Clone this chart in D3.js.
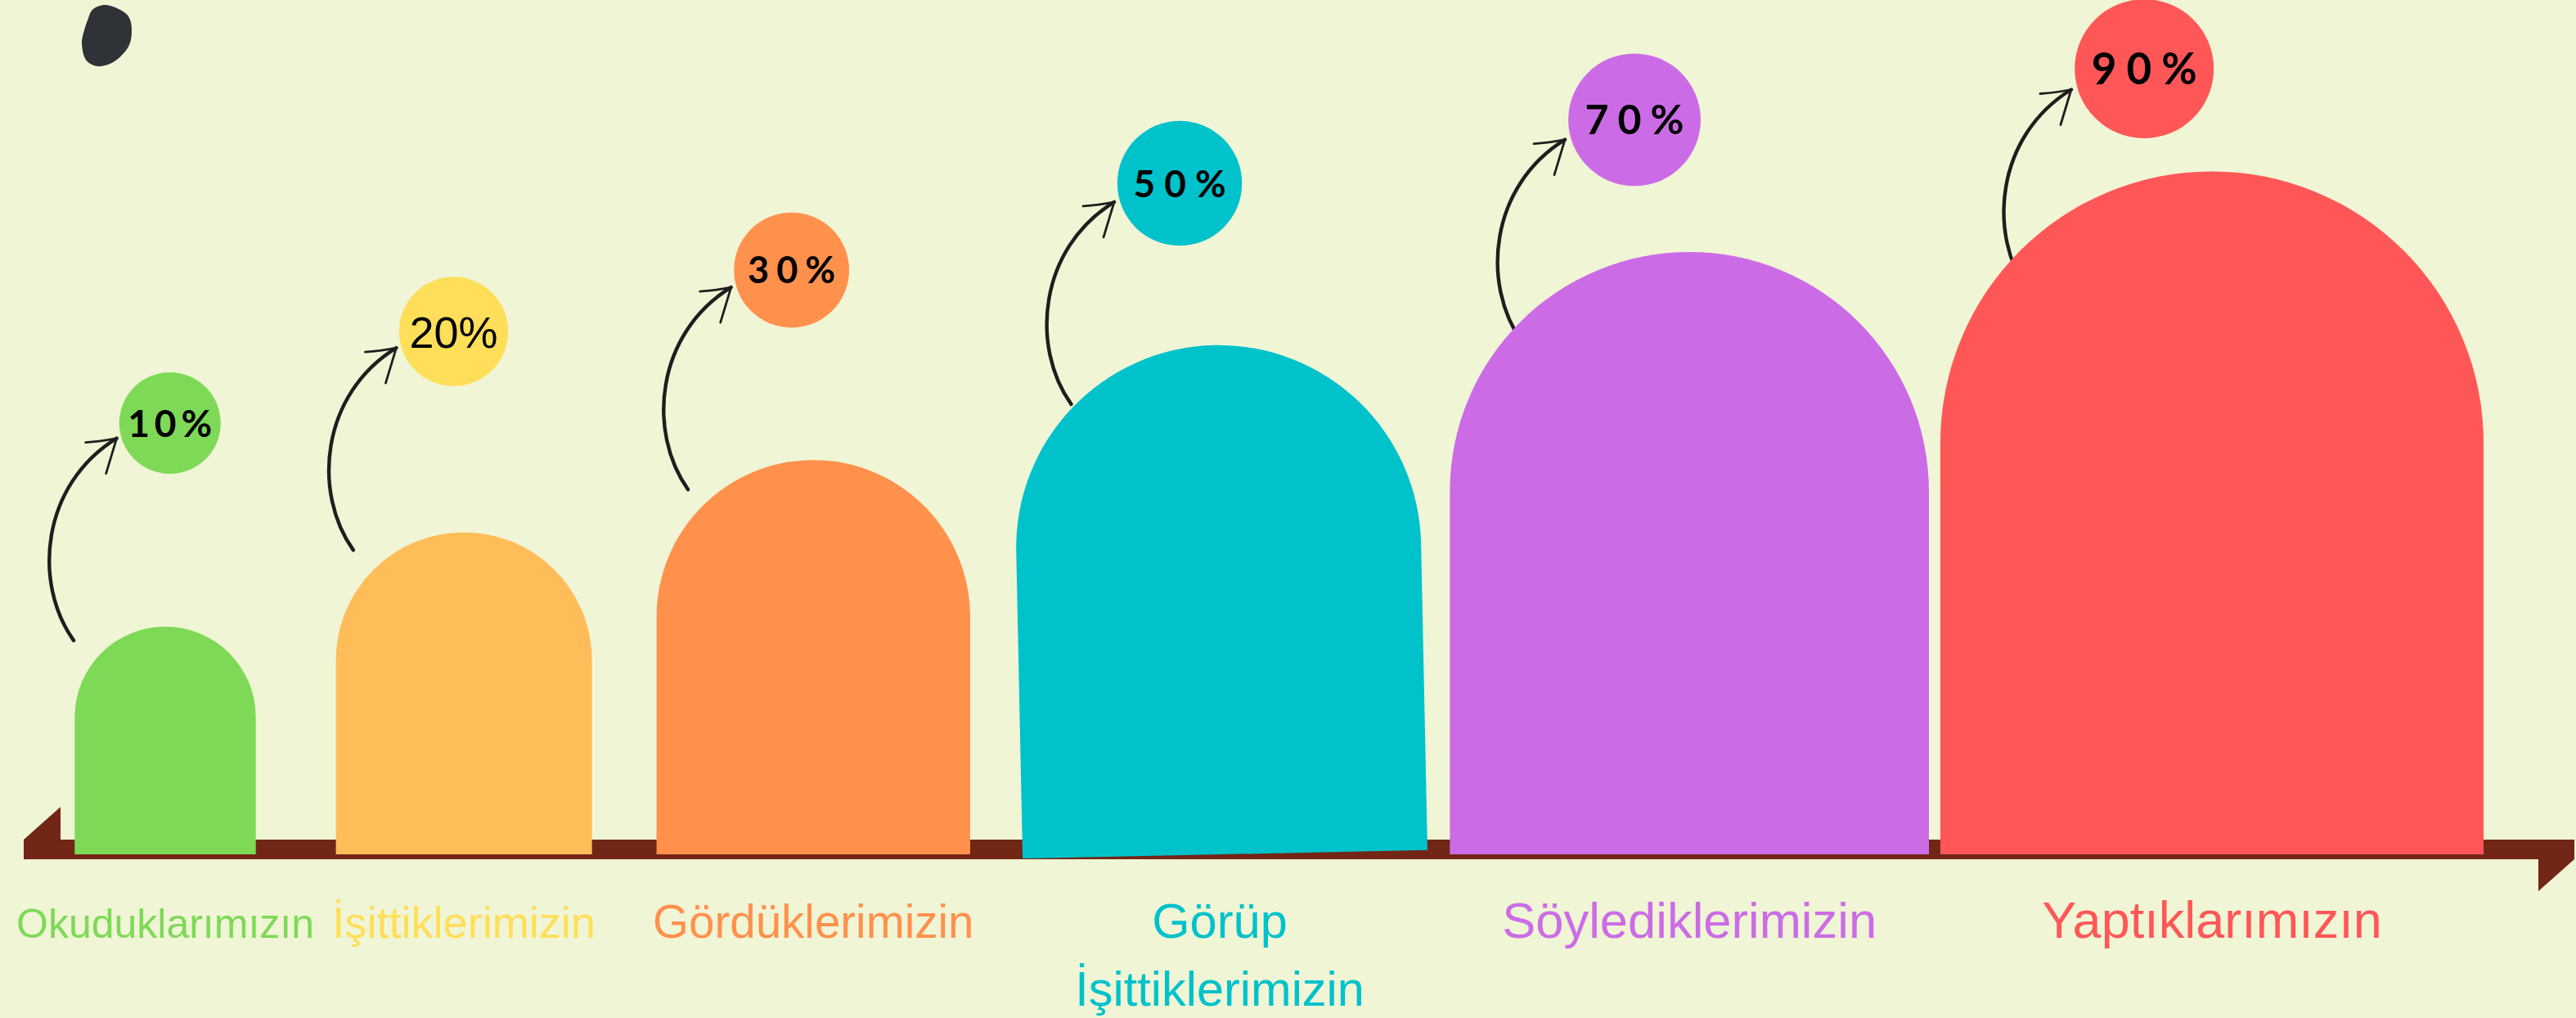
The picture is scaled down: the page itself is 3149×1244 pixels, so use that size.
<!DOCTYPE html>
<html>
<head>
<meta charset="utf-8">
<script src="https://cdn.jsdelivr.net/npm/d3@7"></script>
<style>
  html, body { margin: 0; padding: 0; background: #F0F5D5; }
  svg { display: block; }
</style>
</head>
<body>
<div id="chart"></div>
<script>
const width = 3149;
const height = 1244;

// data
const categories = ["Okuduklarımızın", "İşittiklerimizin", "Gördüklerimizin", "Görüp İşittiklerimizin", "Söylediklerimizin", "Yaptıklarımızın"];
const values = [10, 20, 30, 50, 70, 90];
const percentLabels = values.map((v) => v + "%");

// colours
const barColors = ["#7ED957", "#FFBD59", "#FF914D", "#00C2CB", "#CB6CE6", "#FF5757"];
const accentColors = ["#7ED957", "#FFDE59", "#FF914D", "#00C2CB", "#CB6CE6", "#FF5757"];
const bubbleText = [
    { size: 46, weight: 700, spacing: 6, family: "Lato" },
    { size: 54, weight: 400, spacing: 0, family: "Liberation Sans" },
    { size: 45, weight: 700, spacing: 9, family: "Lato" },
    { size: 46, weight: 700, spacing: 11, family: "Lato" },
    { size: 50, weight: 700, spacing: 11, family: "Lato" },
    { size: 53, weight: 700, spacing: 12, family: "Lato" }
];
const tilt = [0, 0, 0, -1.2, 0, 0];

const baseY = 1044;

// bar size follows the square root of the value
const heightScale = d3.scaleSqrt().domain([0, 100]).range([0, 880]);
const widthScale = d3.scaleSqrt().domain([0, 100]).range([0, 700]);

// horizontal layout: slots proportional to sqrt(value) plus a constant gap
const slot = d3.scaleSqrt().domain([0, 100]).range([0, 10]);
const gap = 3;
let acc = 0;
const mids = values.map((v) => {
    const s = slot(v);
    const m = acc + s / 2;
    acc += s + gap;
    return m;
});
const x = d3.scaleLinear().domain([mids[0], mids[mids.length - 1]]).range([202, 2704]);

// bubbles
const bubbleY = d3.scalePow().exponent(0.25).domain([10, 90]).range([517, 84]);
const bubbleR = d3.scaleSqrt().domain([10, 90]).range([62, 85]);
const labelSize = d3.scaleLog().domain([10, 90]).range([50, 63]);

const rows = categories.map((c, i) => {
    const w = widthScale(values[i]);
    const cx = x(mids[i]);
    const r = bubbleR(values[i]);
    const bx = cx - 0.2 * (w - 250);
    const by = bubbleY(values[i]);
    return {
        category: c, value: values[i], label: percentLabels[i], i,
        cx, w, top: baseY - heightScale(values[i]),
        bx, by, r,
        tip: [bx - 1.05 * r, by + 0.3 * r]
    };
});

// hand drawn arrow: one cubic from the tail up to the tip
function shaftPath(d) {
    const [tx, ty] = d.tip;
    const sx = tx - 52.6, sy = ty + 247;
    const p = d3.path();
    p.moveTo(sx, sy);
    p.bezierCurveTo(sx - 50, sy - 70, sx - 40, sy - 190, tx, ty);
    return p.toString();
}

function archPath(d) {
    const r = d.w / 2;
    const l = d.cx - r, rt = d.cx + r;
    return `M${l},${baseY}L${l},${d.top + r}A${r},${r} 0 0 1 ${rt},${d.top + r}L${rt},${baseY}Z`;
}

function plot() {
    const svg = d3.create("svg")
        .attr("width", width)
        .attr("height", height)
        .attr("viewBox", [0, 0, width, height]);

    svg.append("rect")
        .attr("width", width)
        .attr("height", height)
        .attr("fill", "#F0F5D5");

    // decorative blob top-left
    const blob = [[107, 25], [113, 12], [127, 6], [143, 10], [157, 20], [161, 37], [157, 57], [140, 75], [120, 81], [105, 73], [100, 53], [103, 37]];
    svg.append("path")
        .attr("d", d3.line().curve(d3.curveCardinalClosed)(blob))
        .attr("fill", "#2F3237");

    // axis band with its two flags
    const bandTop = 1026, bandBottom = 1050, left = 29, right = 3147;
    svg.append("path")
        .attr("d", `M${left},${bandTop}L${left + 45},${bandTop - 40}L${left + 45},${bandTop}L${right},${bandTop}` +
            `L${right},${bandBottom}L${right - 44},${bandBottom + 39}L${right - 44},${bandBottom}L${left},${bandBottom}Z`)
        .attr("fill", "#722616");

    // arrows (drawn under the bars)
    const arrows = svg.append("g")
        .attr("fill", "none")
        .attr("stroke", "#1E1E1E")
        .attr("stroke-linecap", "round")
        .attr("stroke-linejoin", "round");

    arrows.selectAll("path.shaft")
        .data(rows)
        .join("path")
        .attr("class", "shaft")
        .attr("stroke-width", 4.4)
        .attr("d", shaftPath);

    arrows.selectAll("path.head")
        .data(rows)
        .join("path")
        .attr("class", "head")
        .attr("stroke-width", 2.8)
        .attr("d", (d) => {
            const [tx, ty] = d.tip;
            return `M${tx - 38},${ty + 5}Q${tx - 20},${ty + 4} ${tx},${ty}L${tx - 13},${ty + 43}`;
        });

    // arched bars
    svg.append("g")
        .selectAll("path")
        .data(rows)
        .join("path")
        .attr("d", archPath)
        .attr("fill", (d) => barColors[d.i])
        .attr("transform", (d) => tilt[d.i] ? `rotate(${tilt[d.i]},${d.cx},${(d.top + baseY) / 2})` : null);

    // value bubbles
    svg.append("g")
        .selectAll("circle")
        .data(rows)
        .join("circle")
        .attr("cx", (d) => d.bx)
        .attr("cy", (d) => d.by)
        .attr("r", (d) => d.r)
        .attr("fill", (d) => accentColors[d.i]);

    svg.append("g")
        .selectAll("text")
        .data(rows)
        .join("text")
        .attr("x", (d) => d.bx)
        .attr("dx", (d) => bubbleText[d.i].spacing / 2)
        .attr("y", (d) => d.by + bubbleText[d.i].size * 0.36)
        .attr("text-anchor", "middle")
        .attr("font-family", (d) => bubbleText[d.i].family)
        .attr("font-weight", (d) => bubbleText[d.i].weight)
        .attr("font-size", (d) => bubbleText[d.i].size)
        .attr("letter-spacing", (d) => bubbleText[d.i].spacing)
        .attr("fill", "#000")
        .text((d) => d.label);

    // category labels
    const labels = svg.append("g")
        .selectAll("text")
        .data(rows)
        .join("text")
        .attr("text-anchor", "middle")
        .attr("font-family", "Liberation Sans, Arial, sans-serif")
        .attr("font-size", (d) => labelSize(d.value))
        .attr("fill", (d) => accentColors[d.i]);

    labels.selectAll("tspan")
        .data((d) => d.category.split(" ").map((t, k) => ({ t, k, cx: d.cx })))
        .join("tspan")
        .attr("x", (d) => d.cx)
        .attr("y", (d) => 1146 + d.k * 83)
        .text((d) => d.t);

    return svg.node();
}

d3.select("#chart").append(() => plot());
</script>
</body>
</html>
